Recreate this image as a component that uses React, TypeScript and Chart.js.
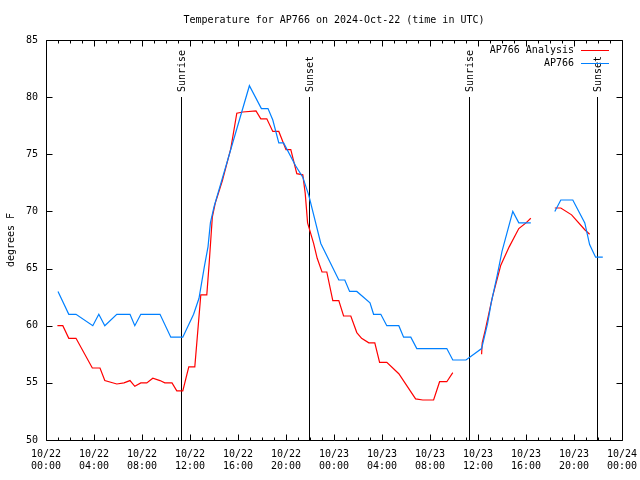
import React, { useEffect, useRef } from 'react';
import { Chart, registerables } from 'chart.js';

Chart.register(...registerables);

const FONT_FAMILY = '"DejaVu Sans Mono", "Liberation Mono", monospace';

const chartTitle = 'Temperature for AP766 on 2024-Oct-22 (time in UTC)';
const yAxisTitle = 'degrees F';
const seriesNames = ['AP766 Analysis', 'AP766'];
const seriesColors = ['#ff0000', '#0080ff'];

// hours since 2024-10-22 00:00 UTC
const analysisHours = [0.95, 1.4, 1.9, 2.5, 3.86, 4.5, 4.9, 5.9, 6.5, 7.0, 7.4, 7.9, 8.4, 8.9, 9.5, 9.9, 10.5, 10.9, 11.4, 11.9, 12.4, 12.9, 13.4, 13.6, 13.75, 13.86, 14.1, 14.7, 15.4, 15.9, 16.4, 17.5, 17.9, 18.4, 18.9, 19.4, 20.0, 20.4, 20.9, 21.4, 21.6, 21.8, 22.3, 22.6, 23.0, 23.4, 23.9, 24.4, 24.8, 25.4, 25.9, 26.3, 26.9, 27.4, 27.8, 28.4, 29.4, 30.8, 31.4, 32.3, 32.8, 33.4, 33.9, 35.1, 36.3, 36.35, 36.6, 37.2, 37.9, 38.6, 39.4, 40.0, 40.4, 41.4, 42.4, 42.9, 43.8, 44.9, 45.3];
const analysisTemps = [60.0, 60.0, 58.9, 58.9, 56.3, 56.3, 55.2, 54.9, 55.0, 55.2, 54.7, 55.0, 55.0, 55.4, 55.2, 55.0, 55.0, 54.3, 54.3, 56.4, 56.4, 62.7, 62.7, 65.5, 67.8, 69.5, 70.7, 72.7, 75.5, 78.6, 78.7, 78.8, 78.1, 78.1, 77.0, 77.0, 75.4, 75.4, 73.3, 73.2, 71.6, 69.0, 67.2, 65.9, 64.7, 64.7, 62.2, 62.2, 60.85, 60.85, 59.4, 58.9, 58.5, 58.5, 56.8, 56.8, 55.8, 53.6, 53.5, 53.5, 55.1, 55.1, 55.9, null, 57.5, 58.5, 59.6, 62.5, 65.3, 66.9, 68.5, 69.0, 69.4, null, 70.3, 70.3, 69.7, 68.4, 68.0];

const stationHours = [1.0, 1.9, 2.5, 3.9, 4.4, 4.9, 5.9, 7.0, 7.4, 7.9, 9.5, 10.4, 11.4, 12.3, 12.75, 13.2, 13.5, 13.7, 14.0, 16.95, 17.95, 18.5, 18.9, 19.4, 19.8, 20.8, 21.4, 21.9, 22.9, 24.4, 24.9, 25.3, 25.9, 27.0, 27.3, 27.9, 28.4, 29.4, 29.8, 30.4, 30.9, 33.4, 33.9, 35.0, 36.3, 36.8, 37.1, 37.6, 38.0, 38.9, 39.4, 40.4, 41.4, 42.4, 42.9, 43.9, 44.9, 45.3, 45.8, 46.4];
const stationTemps = [63, 61, 61, 60, 61, 60, 61, 61, 60, 61, 61, 59, 59, 61, 62.4, 65.2, 66.9, 69, 70.4, 81, 79, 79, 78, 76, 76, 74, 73, 71.4, 67.2, 64, 64, 63, 63, 62, 61, 61, 60, 60, 59, 59, 58, 58, 57, 57, 58, 60.2, 62, 64.4, 66.5, 70, 69, 69, null, 70, 71, 71, 69, 67.1, 66, 66];

const sunHours = [11.28, 21.9, 35.25, 45.9];
const sunLabels = ['Sunrise', 'Sunset', 'Sunrise', 'Sunset'];
const sunLineTop = 80;

const xMin = 0, xMax = 48, xStep = 4, xMinorStep = 1;
const yMin = 50, yMax = 85, yStep = 5;
const monthLabel = '10';
const firstDay = 22;

const toPoints = (hs: number[], ts: (number | null)[]) => hs.map((h, i) => ({ x: h, y: ts[i] }));

const fmtX = (v: number) => {
  const day = firstDay + Math.floor(v / 24);
  const hr = Math.round(v % 24);
  return [`${monthLabel}/${day}`, `${String(hr).padStart(2, '0')}:00`];
};

const decor = {
  id: 'decor',
  beforeDatasetsDraw(chart: any) {
    const { ctx, scales } = chart;
    const x = scales.x, y = scales.y;
    ctx.save();
    ctx.strokeStyle = '#000';
    ctx.fillStyle = '#000';
    ctx.lineWidth = 1;
    ctx.font = `10px ${FONT_FAMILY}`;
    sunHours.forEach((h, i) => {
      const px = Math.round(x.getPixelForValue(h)) + 0.5;
      const top = Math.round(y.getPixelForValue(sunLineTop));
      ctx.beginPath();
      ctx.moveTo(px, y.getPixelForValue(yMin));
      ctx.lineTo(px, top);
      ctx.stroke();
      ctx.save();
      ctx.translate(px + 1, top - 5);
      ctx.rotate(-Math.PI / 2);
      ctx.textAlign = 'left';
      ctx.textBaseline = 'middle';
      ctx.fillText(sunLabels[i], 0, 0);
      ctx.restore();
    });
    ctx.restore();
  },
  afterDraw(chart: any) {
    const { ctx, chartArea, scales } = chart;
    const x = scales.x, y = scales.y;
    const L = Math.round(chartArea.left) + 0.5;
    const R = Math.round(chartArea.right) + 0.5;
    const T = Math.round(chartArea.top) + 0.5;
    const B = Math.round(chartArea.bottom) + 0.5;
    ctx.save();
    ctx.strokeStyle = '#000';
    ctx.lineWidth = 1;
    ctx.beginPath();
    ctx.rect(L, T, R - L, B - T);
    ctx.stroke();
    ctx.beginPath();
    for (let v = xMin; v <= xMax; v += xMinorStep) {
      const len = v % xStep === 0 ? 6 : 3;
      const px = Math.round(x.getPixelForValue(v)) + 0.5;
      ctx.moveTo(px, B); ctx.lineTo(px, B - len);
      ctx.moveTo(px, T); ctx.lineTo(px, T + len);
    }
    for (let v = yMin; v <= yMax; v += yStep) {
      const py = Math.round(y.getPixelForValue(v)) + 0.5;
      ctx.moveTo(L, py); ctx.lineTo(L + 6, py);
      ctx.moveTo(R, py); ctx.lineTo(R - 6, py);
    }
    ctx.stroke();

    ctx.fillStyle = '#000';
    ctx.font = `10px ${FONT_FAMILY}`;
    ctx.textAlign = 'center';
    ctx.textBaseline = 'middle';
    ctx.fillText(chartTitle, (chartArea.left + chartArea.right) / 2, 20);

    ctx.save();
    ctx.translate(11, (chartArea.top + chartArea.bottom) / 2);
    ctx.rotate(-Math.PI / 2);
    ctx.fillText(yAxisTitle, 0, 0);
    ctx.restore();

    // legend
    const textRight = chartArea.right - 48;
    const lineX0 = chartArea.right - 41;
    const lineX1 = chartArea.right - 13;
    seriesNames.forEach((name, i) => {
      const ly = chartArea.top + 10 + i * 13;
      ctx.textAlign = 'right';
      ctx.fillStyle = '#000';
      ctx.fillText(name, textRight, ly);
      ctx.strokeStyle = seriesColors[i];
      ctx.beginPath();
      ctx.moveTo(lineX0, Math.round(ly) + 0.5);
      ctx.lineTo(lineX1, Math.round(ly) + 0.5);
      ctx.stroke();
    });
    ctx.restore();
  },
};

export default function App() {
  const ref = useRef<HTMLCanvasElement>(null);
  useEffect(() => {
    document.body.style.margin = '0';
    const canvas = ref.current!;
    const font = { family: FONT_FAMILY, size: 10 };
    const chart = new Chart(canvas, {
      type: 'line',
      data: {
        datasets: [
          {
            label: seriesNames[1],
            data: toPoints(stationHours, stationTemps),
            borderColor: seriesColors[1],
            borderWidth: 1.2,
            pointRadius: 0,
            tension: 0,
            spanGaps: false,
            fill: false,
          },
          {
            label: seriesNames[0],
            data: toPoints(analysisHours, analysisTemps),
            borderColor: seriesColors[0],
            borderWidth: 1.2,
            pointRadius: 0,
            tension: 0,
            spanGaps: false,
            fill: false,
          },
        ],
      },
      options: {
        responsive: false,
        animation: false,
        events: [],
        layout: { padding: { top: 40, right: 18, left: 0, bottom: 0 } },
        plugins: {
          legend: { display: false },
          tooltip: { enabled: false },
          title: { display: false },
        },
        scales: {
          x: {
            type: 'linear',
            min: xMin,
            max: xMax,
            grid: { display: false, drawTicks: false },
            border: { display: false },
            ticks: {
              stepSize: xStep,
              autoSkip: false,
              maxRotation: 0,
              color: '#000',
              font,
              padding: 8,
              callback: (v: any) => fmtX(Number(v)),
            },
            afterFit: (s: any) => {
              s.height = 40;
              s.paddingLeft = 0;
              s.paddingRight = 0;
            },
          },
          y: {
            type: 'linear',
            min: yMin,
            max: yMax,
            grid: { display: false, drawTicks: false },
            border: { display: false },
            ticks: { stepSize: yStep, color: '#000', font, padding: 8 },
            afterFit: (s: any) => {
              s.width = 46;
              s.paddingTop = 0;
              s.paddingBottom = 0;
            },
          },
        },
      },
      plugins: [decor],
    } as any);
    return () => chart.destroy();
  }, []);
  return <canvas ref={ref} width={640} height={480} style={{ display: 'block' }} />;
}
